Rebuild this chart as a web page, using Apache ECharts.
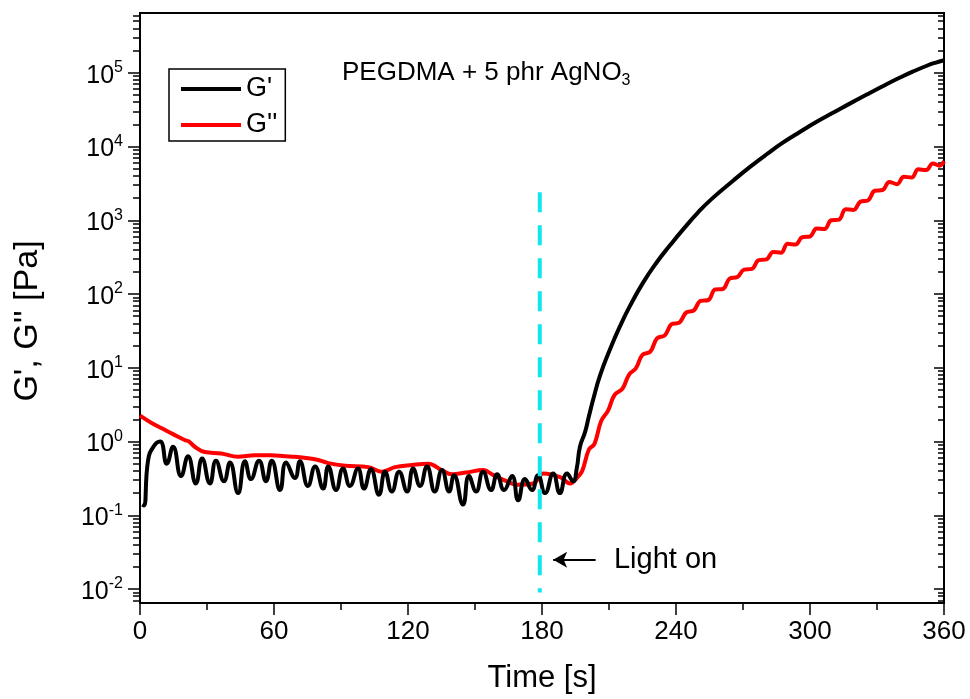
<!DOCTYPE html>
<html>
<head>
<meta charset="utf-8">
<script src="https://cdn.jsdelivr.net/npm/echarts@6/dist/echarts.min.js"></script>
<style>
html,body{margin:0;padding:0;background:#fff;}
#chart{width:970px;height:699px;}
</style>
</head>
<body>
<div id="chart"></div>
<script>
// ---- data ----
const seriesNames = ["G'", "G''"];
const titleText = 'PEGDMA + 5 phr AgNO{sub|3}';
const annotationText = 'Light on';
const lightOnTime = 179;
const lightLineRange = [2400, 0.009];
const arrowFrom = [204, 0.025];
const arrowTo = [185, 0.025];
const xTicks = [0, 60, 120, 180, 240, 300, 360];
const yMajorTicks = [0.01, 0.1, 1, 10, 100, 1000, 10000, 100000];
const yMinorTicks = [];
[0.01, 0.1, 1, 10, 100, 1000, 10000, 100000].forEach(function (d) {
  for (let k = 2; k <= 9; k++) yMinorTicks.push(+(d * k).toPrecision(3));
});
yMinorTicks.unshift(0.007, 0.008, 0.009);

// G' (storage modulus)
const gpTime = [1, 1.8, 3.6, 6, 9, 12, 14.8, 18.4, 21.5, 25, 27.8, 31.3, 34, 37.6, 40.3, 43.9, 47, 49.7,
  53.3, 56.4, 59, 62.7, 65.4, 69.4, 71.6, 75.2, 78.4, 82, 84.3, 87.8, 90.9, 94, 97.6, 100.3, 103.4, 107,
  109.7, 112.8, 116, 119.6, 122.3, 125.4, 128.5, 132, 135.2, 138.4, 140.6, 144.6, 147.3, 150.5, 153.6,
  157.2, 159.9, 163, 166.6, 169.3, 172.4, 175.5, 178.2, 181.4, 185, 188, 191.2, 193.9, 195.6, 197,
  199.3, 201, 203, 206, 210.5, 215, 219.4, 225.4, 231.4, 237.3, 243.3, 250, 256, 265.7, 273, 280.6,
  288, 295.6, 303, 310.5, 318, 325.4, 333, 340.3, 346, 352.3, 356, 360];
const gpValue = [0.14, 0.136, 0.55, 0.85, 1.0, 0.50, 0.85, 0.34, 0.63, 0.27, 0.59, 0.27, 0.55, 0.29, 0.52,
  0.20, 0.54, 0.31, 0.55, 0.29, 0.55, 0.22, 0.52, 0.32, 0.54, 0.25, 0.46, 0.23, 0.46, 0.22, 0.43, 0.25,
  0.43, 0.23, 0.42, 0.19, 0.39, 0.21, 0.39, 0.21, 0.43, 0.25, 0.46, 0.21, 0.41, 0.21, 0.35, 0.14, 0.34,
  0.21, 0.39, 0.22, 0.36, 0.22, 0.34, 0.16, 0.31, 0.22, 0.35, 0.20, 0.37, 0.20, 0.37, 0.29, 0.44, 0.85,
  1.35, 2.2, 3.8, 7.9, 18, 37, 69, 145, 270, 457, 759, 1288, 1950, 3467, 5248, 7852, 11350, 15850,
  21630, 28840, 38460, 50700, 66830, 86100, 103500, 124500, 136500, 147900];

// G'' (loss modulus)
const gppTime = [0, 5, 10, 15, 20, 22, 24.5, 29, 36.4, 43.9, 51.3, 58.8, 65, 69.4, 78.4, 84.3, 91.8, 102.3,
  108.2, 114.2, 121.7, 129.1, 135.1, 139.6, 146, 153.7, 158.2, 163, 168.7, 176.1, 180.6, 188.1, 192.6,
  195.6, 198, 201, 203.5, 206.5, 209.5, 212.5, 216, 219, 222, 225, 228.5, 231.5, 235, 238, 241.5, 244.5,
  248, 251, 254.5, 257.5, 261, 264, 267.5, 270.5, 274, 277, 280.5, 283.5, 287, 290, 293.5, 296.5, 300,
  303, 306.5, 309.5, 313, 316, 319.5, 322.5, 326, 329, 332.5, 335.5, 339, 342, 345.5, 348.5, 352, 355,
  358, 360];
const gppValue = [2.24, 1.8, 1.5, 1.25, 1.05, 1.0, 0.85, 0.72, 0.69, 0.62, 0.65, 0.65, 0.63, 0.62, 0.575,
  0.51, 0.47, 0.45, 0.39, 0.45, 0.48, 0.50, 0.41, 0.36, 0.38, 0.41, 0.35, 0.30, 0.26, 0.27, 0.37, 0.33,
  0.27, 0.32, 0.40, 0.78, 0.93, 1.9, 2.6, 4.3, 5.2, 8.1, 9.8, 15, 16.6, 25, 27.5, 39, 41, 56, 60, 81, 83,
  115, 117, 162, 170, 214, 219, 288, 295, 372, 363, 479, 468, 589, 603, 776, 759, 1000, 1023, 1413, 1380,
  1778, 1862, 2512, 2570, 3311, 3090, 3890, 3800, 4900, 4790, 5890, 5500, 6310];

// ---- build chart ----
const pair = (ts, vs) => ts.map((t, i) => [t, vs[i]]);
const FONT = "'Liberation Sans', Arial, sans-serif";
const Y_MIN = 0.00647, Y_MAX = 646000;

function logAxis(position, ticks, len, inside, showLabel) {
  return {
    type: 'log', logBase: 10, min: Y_MIN, max: Y_MAX, position: position,
    axisLine: { show: true, lineStyle: { color: '#000', width: 2 } },
    axisTick: { show: true, inside: inside, length: len, customValues: ticks, lineStyle: { color: '#000', width: 1.5 } },
    axisLabel: showLabel ? {
      show: true, margin: 17, customValues: ticks, fontFamily: FONT, fontSize: 25, color: '#000',
      padding: [6, 0, 0, 0],
      formatter: function (v) { return '10{sup|' + Math.round(Math.log10(v)) + '}'; },
      rich: { sup: { fontSize: 16, fontFamily: FONT, color: '#000', verticalAlign: 'top', padding: [0, 0, 16, 0] } }
    } : { show: false },
    splitLine: { show: false }, minorTick: { show: false }
  };
}

const chart = echarts.init(document.getElementById('chart'), null, { renderer: 'canvas' });
const yLeft = logAxis('left', yMajorTicks, 12, false, true);
yLeft.name = "G', G'' [Pa]";
yLeft.nameLocation = 'middle';
yLeft.nameGap = 95;
yLeft.nameTextStyle = { fontFamily: FONT, fontSize: 34, color: '#000', padding: [0, 26, 0, 0] };

chart.setOption({
  animation: false,
  backgroundColor: '#fff',
  title: {
    text: titleText, left: 337, top: 52,
    textStyle: { fontFamily: FONT, fontSize: 26, fontWeight: 'normal', color: '#000',
      rich: { sub: { fontFamily: FONT, fontSize: 16, color: '#000', verticalAlign: 'bottom', padding: [16, 0, 0, 0] } } }
  },
  legend: {
    data: seriesNames, orient: 'vertical', left: 169, top: 69,
    icon: 'rect', itemWidth: 60, itemHeight: 4, itemGap: 8,
    padding: [6, 8, 2, 12],
    borderColor: '#000', borderWidth: 1.5, backgroundColor: '#fff',
    textStyle: { fontFamily: FONT, fontSize: 27, lineHeight: 28, color: '#000' }
  },
  grid: { left: 140, right: 26, top: 13, bottom: 94, show: true, borderColor: '#000', borderWidth: 2, containLabel: false },
  xAxis: [{
    type: 'value', min: xTicks[0], max: xTicks[xTicks.length - 1], interval: 60,
    name: 'Time [s]', nameLocation: 'middle', nameGap: 60,
    nameTextStyle: { fontFamily: FONT, fontSize: 31, color: '#000' },
    axisLine: { show: true, lineStyle: { color: '#000', width: 2 } },
    axisTick: { show: true, length: 12, lineStyle: { color: '#000', width: 1.5 } },
    minorTick: { show: true, splitNumber: 2, length: 7, lineStyle: { color: '#000', width: 1.5 } },
    axisLabel: { fontFamily: FONT, fontSize: 26, color: '#000', margin: 16 },
    splitLine: { show: false }
  }],
  yAxis: [
    yLeft,
    logAxis('left', yMinorTicks, 7, false, false),
    logAxis('right', yMajorTicks, 10, true, false),
    logAxis('right', yMinorTicks, 6, true, false)
  ],
  series: [
    {
      name: seriesNames[0], type: 'line', data: pair(gpTime, gpValue), yAxisIndex: 0,
      showSymbol: false, symbol: 'none', smooth: 0.5, z: 4,
      lineStyle: { color: '#000', width: 4 }, itemStyle: { color: '#000' }
    },
    {
      name: seriesNames[1], type: 'line', data: pair(gppTime, gppValue), yAxisIndex: 0,
      showSymbol: false, symbol: 'none', smooth: 0.4, z: 3,
      lineStyle: { color: '#ff0000', width: 4 }, itemStyle: { color: '#ff0000' }
    },
    {
      name: 'light', type: 'line', yAxisIndex: 0, silent: true, z: 5,
      data: [[lightOnTime, lightLineRange[0]], [lightOnTime, lightLineRange[1]]],
      showSymbol: false, symbol: 'none',
      lineStyle: { color: '#11e6ee', width: 4, type: [20, 13] },
      markLine: {
        silent: true, animation: false,
        symbol: ['none', 'arrow'], symbolSize: [12, 14],
        label: { show: false },
        lineStyle: { color: '#000', width: 2, type: 'solid' },
        data: [[{ coord: arrowFrom }, { coord: arrowTo }]]
      },
      markPoint: {
        silent: true, animation: false,
        symbol: 'circle', symbolSize: 1, itemStyle: { color: 'rgba(0,0,0,0)' },
        label: { show: true, position: 'right', distance: 0, formatter: annotationText,
          fontFamily: FONT, fontSize: 29, color: '#000' },
        data: [{ coord: [212, 0.025] }]
      }
    }
  ]
});
</script>
</body>
</html>
